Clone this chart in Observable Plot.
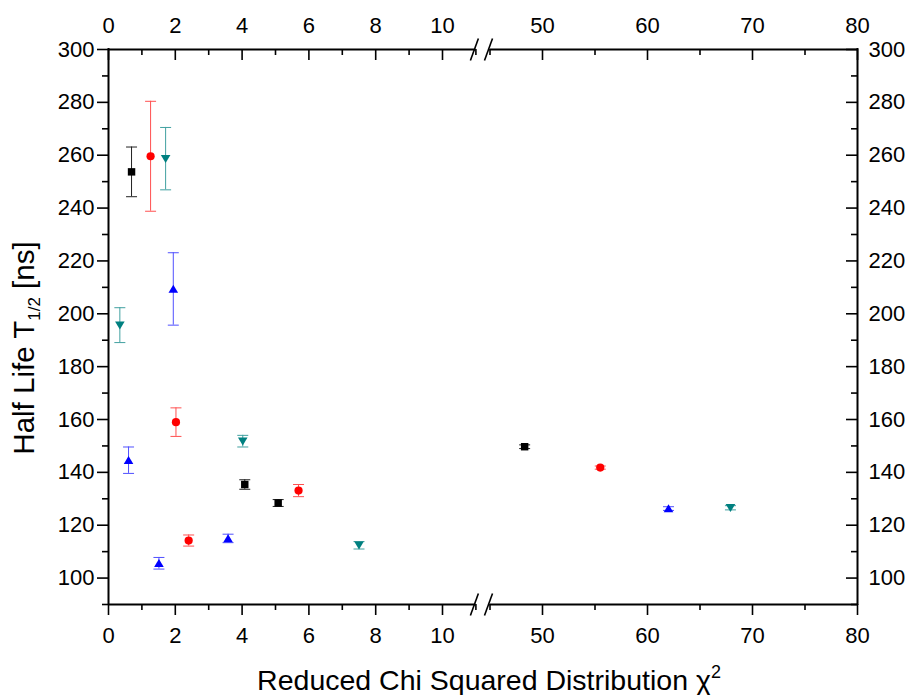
<!DOCTYPE html>
<html>
<head>
<meta charset="utf-8">
<script src="https://cdn.jsdelivr.net/npm/d3@7"></script>
<script src="https://cdn.jsdelivr.net/npm/@observablehq/plot@0.6"></script>
<style>
  html, body { margin: 0; padding: 0; background: #fff; }
  #chart svg { display: block; }
</style>
</head>
<body>
<div id="chart"></div>
<script>
// ---- data ----
const set1Chi = [0.69, 4.08, 5.08, 48.3];
const set1T   = [253.7, 135.4, 128.4, 149.7];
const set1Err = [9.4, 1.8, 1.3, 0.7];

const set2Chi = [1.26, 2.02, 2.40, 5.69, 55.5];
const set2T   = [259.6, 159.0, 114.2, 133.1, 141.8];
const set2Err = [20.8, 5.4, 2.1, 2.3, 0.6];

const set3Chi = [1.94, 0.60, 1.51, 3.58, 62.0];
const set3T   = [209.4, 144.6, 105.6, 115.0, 126.3];
const set3Err = [13.7, 5.0, 2.2, 1.6, 0.7];

const set4Chi = [1.71, 0.34, 4.02, 7.50, 67.9];
const set4T   = [258.7, 195.7, 151.8, 112.4, 126.6];
const set4Err = [11.8, 6.6, 2.2, 1.4, 0.8];

const xMajorTicks = [0, 2, 4, 6, 8, 10, 50, 60, 70, 80];
const xMinorTicks = [1, 3, 5, 7, 9, 11, 45, 55, 65, 75];
const yMajorTicks = [100, 120, 140, 160, 180, 200, 220, 240, 260, 280, 300];
const yMinorTicks = [90, 110, 130, 150, 170, 190, 210, 230, 250, 270, 290];
const xSegments = [[0, 11], [45, 80]];   // visible pieces of the broken x axis
const xBreaks = [11, 45];                 // break marks
const yEdges = [90, 300];

const xLabel = "Reduced Chi Squared Distribution \u03c72";
const yLabel = "Half Life T1/2 [ns]";

// ---- symbols ----
const upTri = { draw(ctx) { ctx.moveTo(0, -4.3); ctx.lineTo(4.8, 3.7); ctx.lineTo(-4.8, 3.7); ctx.closePath(); } };
const downTri = { draw(ctx) { ctx.moveTo(0, 4.3); ctx.lineTo(4.8, -3.7); ctx.lineTo(-4.8, -3.7); ctx.closePath(); } };
const capSym = { draw(ctx) { ctx.moveTo(-5.5, 0); ctx.lineTo(5.5, 0); } };
const slashSym = { draw(ctx) { ctx.moveTo(-4, 11); ctx.lineTo(4, -11); } };

const sets = [
  { color: "#000000", barColor: "#222222", symbol: "square", r: 4.2, chi: set1Chi, t: set1T, err: set1Err },
  { color: "#ff0000", barColor: "#ff5050", symbol: "circle", r: 4.1, chi: set2Chi, t: set2T, err: set2Err },
  { color: "#0000ff", barColor: "#5050ff", symbol: upTri,    r: 4,   chi: set3Chi, t: set3T, err: set3Err },
  { color: "#008080", barColor: "#40a0a0", symbol: downTri,  r: 4,   chi: set4Chi, t: set4T, err: set4Err }
];

const marks = [];
const font = 22;

// axis lines
for (const [a, b] of xSegments) {
  marks.push(Plot.ruleY(yEdges, { x1: a, x2: b, stroke: "black", strokeWidth: 2 }));
}
marks.push(Plot.ruleX([0, 80], { y1: 90, y2: 300, stroke: "black", strokeWidth: 2, strokeLinecap: "square" }));
// break marks
marks.push(Plot.dot(d3.cross(xBreaks, yEdges), { x: d => d[0], y: d => d[1], symbol: slashSym, stroke: "black", fill: "none", strokeWidth: 1.6, dx: -1.5 }));

// ticks: bottom (outward), top (inward), left (outward), right (inward)
marks.push(Plot.axisX(xMajorTicks, { anchor: "bottom", tickSize: 11, fill: "none", strokeWidth: 1.6, label: null }));
marks.push(Plot.axisX(xMinorTicks, { anchor: "bottom", tickSize: 6, fill: "none", strokeWidth: 1.6, label: null }));
marks.push(Plot.axisX(xMajorTicks, { anchor: "bottom", frameAnchor: "top", tickSize: 11, fill: "none", strokeWidth: 1.6, label: null }));
marks.push(Plot.axisX(xMinorTicks, { anchor: "bottom", frameAnchor: "top", tickSize: 6, fill: "none", strokeWidth: 1.6, label: null }));
marks.push(Plot.axisY(yMajorTicks, { anchor: "left", tickSize: 11, fill: "none", strokeWidth: 1.6, label: null }));
marks.push(Plot.axisY(yMinorTicks, { anchor: "left", tickSize: 6, fill: "none", strokeWidth: 1.6, label: null }));
marks.push(Plot.axisY(yMajorTicks, { anchor: "left", frameAnchor: "right", tickSize: 11, fill: "none", strokeWidth: 1.6, label: null }));
marks.push(Plot.axisY(yMinorTicks, { anchor: "left", frameAnchor: "right", tickSize: 6, fill: "none", strokeWidth: 1.6, label: null }));

// tick labels
marks.push(Plot.axisX(xMajorTicks, { anchor: "bottom", tickSize: 0, tickPadding: 23, fontSize: font, tickFormat: d => String(d), label: null }));
marks.push(Plot.axisX(xMajorTicks, { anchor: "top", tickSize: 0, tickPadding: 17, fontSize: font, tickFormat: d => String(d), label: null }));
marks.push(Plot.axisY(yMajorTicks, { anchor: "left", tickSize: 0, tickPadding: 14, fontSize: font, tickFormat: d => String(d), label: null }));
marks.push(Plot.axisY(yMajorTicks, { anchor: "right", tickSize: 0, tickPadding: 11, fontSize: font, tickFormat: d => String(d), label: null }));

// data: error bars then markers
for (const s of sets) {
  const rows = s.chi.map((c, i) => ({ chi: c, t: s.t[i], err: s.err[i] }));
  marks.push(Plot.ruleX(rows, { x: "chi", y1: d => d.t - d.err, y2: d => d.t + d.err, stroke: s.barColor, strokeWidth: 1 }));
  marks.push(Plot.dot(rows, { x: "chi", y: d => d.t + d.err, symbol: capSym, stroke: s.barColor, fill: "none", strokeWidth: 1 }));
  marks.push(Plot.dot(rows, { x: "chi", y: d => d.t - d.err, symbol: capSym, stroke: s.barColor, fill: "none", strokeWidth: 1 }));
  marks.push(Plot.dot(rows, { x: "chi", y: "t", symbol: s.symbol, r: s.r, fill: s.color, stroke: "none" }));
}

// axis titles
marks.push(Plot.text([xLabel], { text: d => d, frameAnchor: "bottom", textAnchor: "middle", dx: 6, dy: 76, fontSize: 28.5, lineAnchor: "middle" }));
marks.push(Plot.text([yLabel], { text: d => d, frameAnchor: "left", textAnchor: "middle", rotate: -90, dx: -84, dy: 21, fontSize: 29.5, lineAnchor: "middle" }));

const chart = Plot.plot({
  width: 909,
  height: 695,
  marginLeft: 108,
  marginRight: 52,
  marginTop: 49,
  marginBottom: 91,
  style: { background: "#fff", color: "#000", fontFamily: "'Liberation Sans', Arial, sans-serif", overflow: "visible" },
  x: { type: "linear", domain: [0, 11, 45, 80], range: [108, 475.4, 489.5, 857], label: null },
  y: { type: "linear", domain: [90, 300], range: [604, 49], label: null },
  marks
});

// rich text for sub/superscripts
function rich(content, parts) {
  const t = d3.select(chart).selectAll("text").filter(function () { return this.textContent === content; });
  if (t.empty()) return;
  t.text(null);
  for (const p of parts) {
    const ts = t.append("tspan").text(p.s);
    if (p.size) ts.attr("font-size", p.size);
    if (p.dy) ts.attr("dy", p.dy);
  }
}
rich(yLabel, [{ s: "Half Life T" }, { s: "1/2", size: 17, dy: 6 }, { s: " [ns]", dy: -6 }]);
rich(xLabel, [{ s: "Reduced Chi Squared Distribution \u03c7" }, { s: "2", size: 18, dy: -12 }]);

document.getElementById("chart").appendChild(chart);
</script>
</body>
</html>
